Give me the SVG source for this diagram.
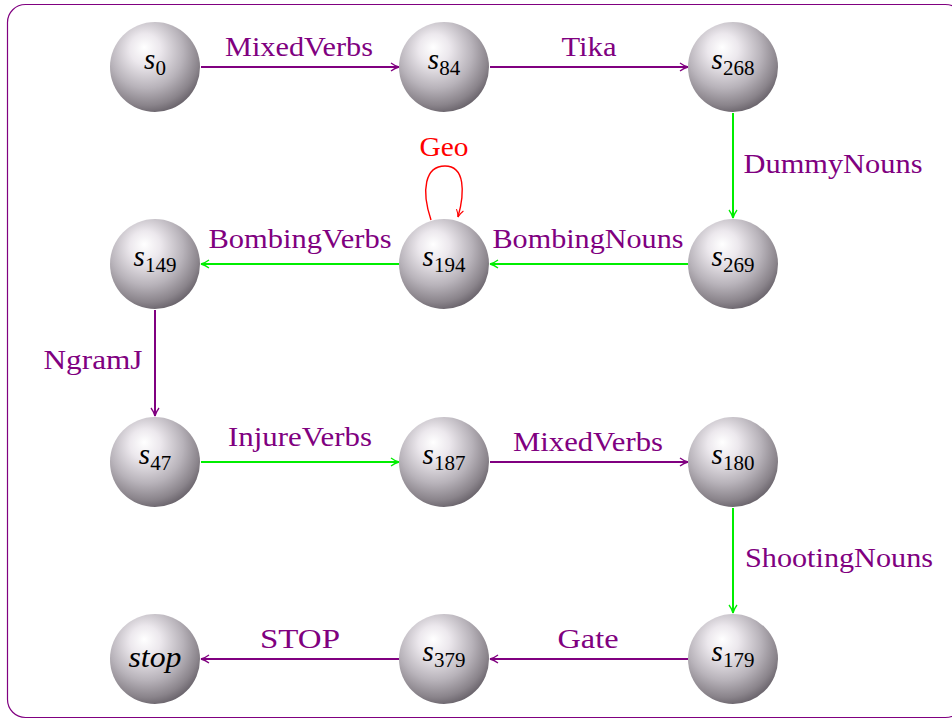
<svg xmlns="http://www.w3.org/2000/svg" width="952" height="719" viewBox="0 0 952 719">
<defs>
<radialGradient id="ball" cx="0.42" cy="0.36" r="0.68" fx="0.38" fy="0.28">
<stop offset="0" stop-color="#ffffff"/>
<stop offset="0.25" stop-color="#ece8ed"/>
<stop offset="0.6" stop-color="#b8b3ba"/>
<stop offset="0.85" stop-color="#8a848b"/>
<stop offset="1" stop-color="#635d65"/>
</radialGradient>
<marker id="av" viewBox="0 0 10 10" refX="9" refY="5" markerWidth="10" markerHeight="10" markerUnits="userSpaceOnUse" orient="auto">
<path d="M1,1 Q5,4 9,5 Q5,6 1,9" fill="none" stroke="#800080" stroke-width="1.3"/>
</marker>
<marker id="ag" viewBox="0 0 10 10" refX="9" refY="5" markerWidth="10" markerHeight="10" markerUnits="userSpaceOnUse" orient="auto">
<path d="M1,1 Q5,4 9,5 Q5,6 1,9" fill="none" stroke="#00ee00" stroke-width="1.3"/>
</marker>
<marker id="ar" viewBox="0 0 10 10" refX="9" refY="5" markerWidth="9" markerHeight="9" markerUnits="userSpaceOnUse" orient="auto">
<path d="M1,1 Q5,4 9,5 Q5,6 1,9" fill="none" stroke="#ff0000" stroke-width="1.2"/>
</marker>
</defs>
<style>
.ball{fill:url(#ball);}
.nt{font-family:"Liberation Serif",serif;font-style:italic;font-size:29px;fill:#000;text-anchor:middle;}
.sub{font-style:normal;font-size:21px;}
.lbl{font-family:"Liberation Serif",serif;font-size:27px;fill:#800080;text-anchor:middle;}
.ev{stroke:#800080;stroke-width:2;fill:none;marker-end:url(#av);}
.eg{stroke:#00ee00;stroke-width:2;fill:none;marker-end:url(#ag);}
</style>
<rect x="7.5" y="4.5" width="956" height="713" rx="18" fill="none" stroke="#800080" stroke-width="1.2"/>
<g id="connectors">
<line class="ev" x1="201" y1="67" x2="399" y2="67"/>
<line class="ev" x1="490" y1="67" x2="688" y2="67"/>
<line class="eg" x1="733" y1="113" x2="733" y2="218"/>
<line class="eg" x1="688" y1="264" x2="490" y2="264"/>
<line class="eg" x1="399" y1="264" x2="201" y2="264"/>
<line class="ev" x1="155" y1="310" x2="155" y2="416"/>
<line class="eg" x1="201" y1="462" x2="399" y2="462"/>
<line class="ev" x1="490" y1="462" x2="688" y2="462"/>
<line class="eg" x1="733" y1="508" x2="733" y2="613"/>
<line class="ev" x1="688" y1="659" x2="490" y2="659"/>
<line class="ev" x1="399" y1="659" x2="201" y2="659"/>
<path d="M431,220 C421,190 425,166 445,166 C465,166 465,192 458,217" fill="none" stroke="#ff0000" stroke-width="1.4" marker-end="url(#ar)"/>
<text class="lbl" x="299" y="56" textLength="148" lengthAdjust="spacingAndGlyphs">MixedVerbs</text>
<text class="lbl" x="589" y="56" textLength="55" lengthAdjust="spacingAndGlyphs">Tika</text>
<text class="lbl" x="833" y="173" textLength="179" lengthAdjust="spacingAndGlyphs">DummyNouns</text>
<text class="lbl" x="588" y="248" textLength="191" lengthAdjust="spacingAndGlyphs">BombingNouns</text>
<text class="lbl" x="300" y="248" textLength="183" lengthAdjust="spacingAndGlyphs">BombingVerbs</text>
<text class="lbl" x="93" y="369" textLength="99" lengthAdjust="spacingAndGlyphs">NgramJ</text>
<text class="lbl" x="300" y="446" textLength="144" lengthAdjust="spacingAndGlyphs">InjureVerbs</text>
<text class="lbl" x="588" y="451" textLength="150" lengthAdjust="spacingAndGlyphs">MixedVerbs</text>
<text class="lbl" x="839" y="567" textLength="188" lengthAdjust="spacingAndGlyphs">ShootingNouns</text>
<text class="lbl" x="588" y="648" textLength="61" lengthAdjust="spacingAndGlyphs">Gate</text>
<text class="lbl" x="300" y="648" textLength="80" lengthAdjust="spacingAndGlyphs">STOP</text>
<text class="lbl" x="444" y="156" textLength="49" lengthAdjust="spacingAndGlyphs" style="fill:#ff0000">Geo</text>
</g>
<g id="s0"><circle class="ball" cx="155" cy="67" r="45"/><text class="nt" x="155" y="69">s<tspan class="sub" dy="6">0</tspan></text></g>
<g id="s84"><circle class="ball" cx="444" cy="67" r="45"/><text class="nt" x="444" y="69">s<tspan class="sub" dy="6">84</tspan></text></g>
<g id="s268"><circle class="ball" cx="733" cy="67" r="45"/><text class="nt" x="733" y="69">s<tspan class="sub" dy="6">268</tspan></text></g>
<g id="s149"><circle class="ball" cx="155" cy="264" r="45"/><text class="nt" x="155" y="266">s<tspan class="sub" dy="6">149</tspan></text></g>
<g id="s194"><circle class="ball" cx="444" cy="264" r="45"/><text class="nt" x="444" y="266">s<tspan class="sub" dy="6">194</tspan></text></g>
<g id="s269"><circle class="ball" cx="733" cy="264" r="45"/><text class="nt" x="733" y="266">s<tspan class="sub" dy="6">269</tspan></text></g>
<g id="s47"><circle class="ball" cx="155" cy="462" r="45"/><text class="nt" x="155" y="464">s<tspan class="sub" dy="6">47</tspan></text></g>
<g id="s187"><circle class="ball" cx="444" cy="462" r="45"/><text class="nt" x="444" y="464">s<tspan class="sub" dy="6">187</tspan></text></g>
<g id="s180"><circle class="ball" cx="733" cy="462" r="45"/><text class="nt" x="733" y="464">s<tspan class="sub" dy="6">180</tspan></text></g>
<g id="stop"><circle class="ball" cx="155" cy="659" r="45"/><text class="nt" x="155" y="667" textLength="53" lengthAdjust="spacingAndGlyphs">stop</text></g>
<g id="s379"><circle class="ball" cx="444" cy="659" r="45"/><text class="nt" x="444" y="661">s<tspan class="sub" dy="6">379</tspan></text></g>
<g id="s179"><circle class="ball" cx="733" cy="659" r="45"/><text class="nt" x="733" y="661">s<tspan class="sub" dy="6">179</tspan></text></g>
</svg>
